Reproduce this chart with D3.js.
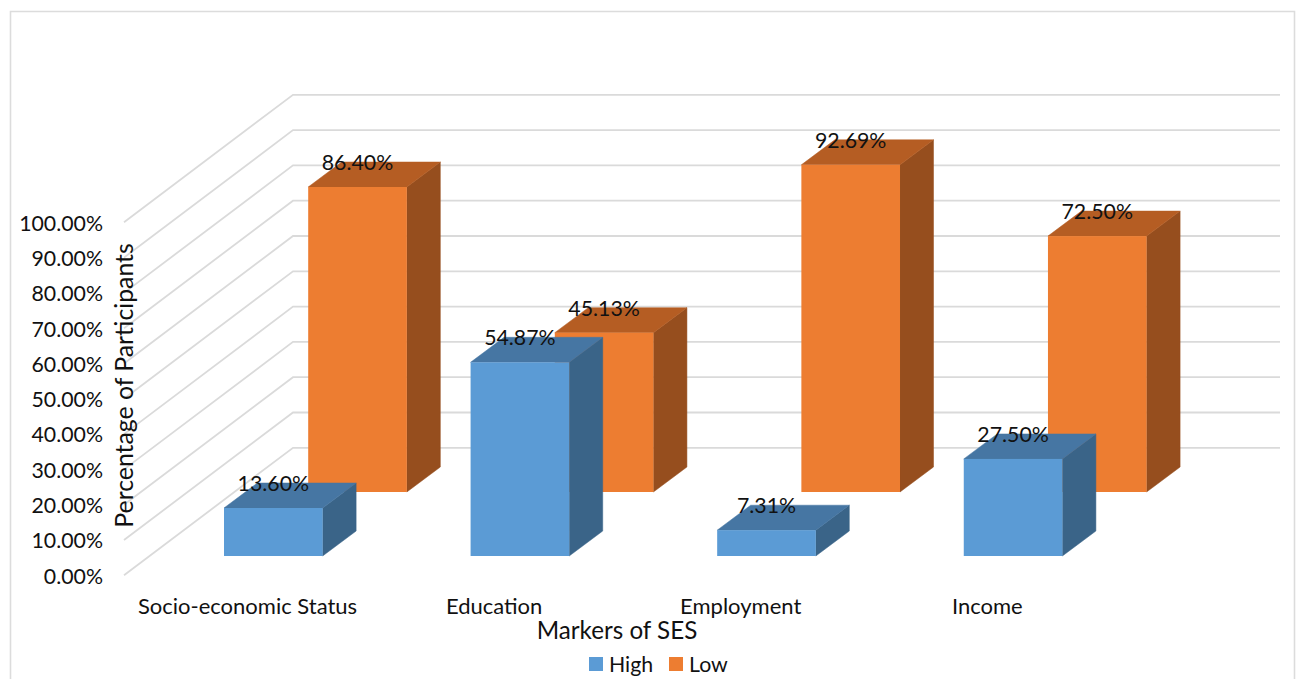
<!DOCTYPE html>
<html>
<head>
<meta charset="utf-8">
<style>
  html, body { margin: 0; padding: 0; background: #fff; }
  svg { display: block; }
  text { font-family: Lato, "Open Sans", sans-serif; fill: #111; }
</style>
<script src="https://cdn.jsdelivr.net/npm/d3@7/dist/d3.min.js"></script>
</head>
<body>
<svg id="chart" width="1298" height="679"></svg>
<script>
const categories = ["Socio-economic Status", "Education", "Employment", "Income"];
const seriesNames = ["High", "Low"];
const highValues = [13.60, 54.87, 7.31, 27.50];
const lowValues = [86.40, 45.13, 92.69, 72.50];
const yTicks = [0, 10, 20, 30, 40, 50, 60, 70, 80, 90, 100];
const yTitle = "Percentage of Participants";
const xTitle = "Markers of SES";

const faceColors = {
  High: { front: "#5B9BD5", top: "#4676A3", side: "#3A6488" },
  Low:  { front: "#ED7D31", top: "#B55D23", side: "#964E1E" }
};

const svg = d3.select("#chart");

// Oblique projection of the 3D box: the wall sits behind the front axis plane
const wallDx = 169, wallDy = -127.5, wallRight = 1280;
const barDx = 33.5, barDy = -25;
const labelSize = 21.3, categorySize = 22, yTitleSize = 24.8, xTitleSize = 24.2;

const rise = d3.scaleLinear().domain([0, 100]).range([0, 353]);
const yAxisScale = d3.scaleLinear().domain([0, 100]).range([575.3, 222.3]);
const xBand = d3.scaleBand().domain(categories).range([224, 1062.4]).paddingInner(0.6);
const seriesDx = d3.scaleOrdinal().domain(seriesNames).range([0, 84.2]);
const floorY = d3.scaleOrdinal().domain(seriesNames).range([556, 492]);

// Chart frame, open at the bottom edge of the page
svg.append("path")
  .attr("d", "M10.5,679V11.5H1294.5V679")
  .attr("fill", "none").attr("stroke", "#dcdcdc").attr("stroke-width", 1.6);

// Gridlines: along the side wall and then across the back wall
svg.append("g").selectAll("path").data(yTicks).join("path")
  .attr("d", t => {
    const y = yAxisScale(t);
    return d3.line()([[124, y], [124 + wallDx, y + wallDy], [wallRight, y + wallDy]]);
  })
  .attr("fill", "none").attr("stroke", "#dadada").attr("stroke-width", 1.8);

// Back row first, so the front row overlaps it
const rows = [
  { name: "Low", values: lowValues },
  { name: "High", values: highValues }
];

const poly = pts => d3.line()(pts) + "Z";

rows.forEach(row => {
  const colors = faceColors[row.name];
  const bars = svg.append("g").attr("class", "bars-" + row.name)
    .selectAll("g").data(row.values).join("g");
  const x0 = (d, i) => xBand(categories[i]) + seriesDx(row.name);
  const x1 = (d, i) => x0(d, i) + xBand.bandwidth();
  const base = floorY(row.name);
  const top = d => base - rise(d);

  bars.append("path").attr("fill", colors.side).attr("stroke", colors.side).attr("stroke-width", 0.5)
    .attr("d", (d, i) => poly([
      [x1(d, i), base], [x1(d, i) + barDx, base + barDy],
      [x1(d, i) + barDx, top(d) + barDy], [x1(d, i), top(d)]
    ]));
  bars.append("path").attr("fill", colors.top).attr("stroke", colors.top).attr("stroke-width", 0.5)
    .attr("d", (d, i) => poly([
      [x0(d, i), top(d)], [x1(d, i), top(d)],
      [x1(d, i) + barDx, top(d) + barDy], [x0(d, i) + barDx, top(d) + barDy]
    ]));
  bars.append("rect").attr("fill", colors.front)
    .attr("x", (d, i) => x0(d, i))
    .attr("y", d => top(d))
    .attr("width", xBand.bandwidth())
    .attr("height", d => rise(d));
});

// Data labels go above every bar
rows.forEach(row => {
  svg.append("g").selectAll("text").data(row.values).join("text")
    .attr("x", (d, i) => xBand(categories[i]) + seriesDx(row.name) + xBand.bandwidth() / 2)
    .attr("y", d => floorY(row.name) - rise(d) + barDy)
    .attr("dy", "0.38em")
    .attr("text-anchor", "middle")
    .attr("font-size", labelSize)
    .text(d => d.toFixed(2) + "%");
});

// Value axis
const yAxis = svg.append("g").attr("transform", "translate(103,1)")
  .call(d3.axisLeft(yAxisScale).tickValues(yTicks).tickSize(0).tickPadding(0)
    .tickFormat(t => t.toFixed(2) + "%"));
yAxis.select(".domain").remove();
yAxis.selectAll("text").attr("font-size", labelSize).attr("font-family", null);

// Category axis, shifted onto the front edge of the floor
const xAxis = svg.append("g").attr("transform", "translate(-25.8,598)")
  .call(d3.axisBottom(xBand).tickSize(0).tickPadding(0));
xAxis.select(".domain").remove();
xAxis.selectAll("text").attr("font-size", categorySize).attr("font-family", null);

// Axis titles
svg.append("text")
  .attr("transform", "translate(124,385.5) rotate(-90)")
  .attr("text-anchor", "middle").attr("dy", "0.35em")
  .attr("font-size", yTitleSize).text(yTitle);
svg.append("text")
  .attr("x", 617).attr("y", 631).attr("dy", "0.35em")
  .attr("text-anchor", "middle").attr("font-size", xTitleSize).text(xTitle);

// Legend
const legendX = d3.scaleOrdinal().domain(seriesNames).range([589, 669]);
const legend = svg.append("g").selectAll("g").data(seriesNames).join("g")
  .attr("transform", d => `translate(${legendX(d)},657)`);
legend.append("rect").attr("width", 14).attr("height", 14).attr("fill", d => faceColors[d].front);
legend.append("text").attr("x", 20).attr("y", 7).attr("dy", "0.38em")
  .attr("font-size", labelSize).text(d => d);
</script>
</body>
</html>
